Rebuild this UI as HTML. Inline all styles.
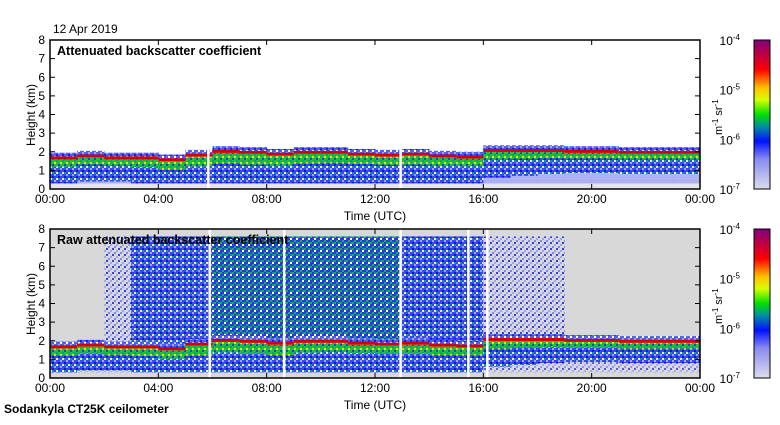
<!DOCTYPE html>
<html><head><meta charset="utf-8"><style>
body{margin:0;background:#fff;width:780px;height:420px;overflow:hidden;font-family:"Liberation Sans",sans-serif}
svg text{font-family:"Liberation Sans",sans-serif}
</style></head><body>
<svg id="c" width="780" height="420">
<defs>
<linearGradient id="cb" x1="0" y1="1" x2="0" y2="0">
<stop offset="0" stop-color="#dcdcec"/><stop offset="0.2" stop-color="#8a8cf0"/><stop offset="0.32" stop-color="#0010ff"/>
<stop offset="0.42" stop-color="#0090a0"/><stop offset="0.5" stop-color="#00e000"/><stop offset="0.6" stop-color="#d8ff00"/>
<stop offset="0.68" stop-color="#ffc000"/><stop offset="0.8" stop-color="#ff0000"/><stop offset="0.9" stop-color="#c00040"/><stop offset="1" stop-color="#800080"/>
</linearGradient>
<pattern id="pLight" width="6" height="6" patternUnits="userSpaceOnUse">
<rect width="6" height="6" fill="#d8d8d8"/><rect x="0" y="0" width="2" height="2" fill="#8088f0"/><rect x="4" y="2" width="2" height="2" fill="#3040f0"/><rect x="2" y="4" width="2" height="2" fill="#a0a4f0"/>
</pattern>
<pattern id="pBlue" width="6" height="6" patternUnits="userSpaceOnUse">
<rect width="6" height="6" fill="#3848ec"/><rect x="0" y="0" width="2" height="2" fill="#a0a8f0"/><rect x="4" y="2" width="2" height="2" fill="#1010f0"/><rect x="2" y="4" width="2" height="2" fill="#e8e8f8"/><rect x="4" y="4" width="2" height="2" fill="#00a080"/>
</pattern>
<pattern id="pMix" width="6" height="6" patternUnits="userSpaceOnUse">
<rect width="6" height="6" fill="#2838e8"/><rect x="0" y="0" width="2" height="2" fill="#20b050"/><rect x="4" y="2" width="2" height="2" fill="#10c020"/><rect x="2" y="4" width="2" height="2" fill="#ffffff"/><rect x="2" y="2" width="2" height="2" fill="#0090a0"/>
</pattern>
<pattern id="pGreen" width="6" height="6" patternUnits="userSpaceOnUse">
<rect width="6" height="6" fill="#20c030"/><rect x="0" y="0" width="2" height="2" fill="#e0e020"/><rect x="4" y="2" width="2" height="2" fill="#2040e0"/><rect x="2" y="4" width="2" height="2" fill="#00a090"/>
</pattern>
<pattern id="pLow" width="6" height="6" patternUnits="userSpaceOnUse">
<rect width="6" height="6" fill="#5060ea"/><rect x="0" y="0" width="2" height="2" fill="#ffffff"/><rect x="4" y="2" width="2" height="2" fill="#a0a6f0"/><rect x="2" y="4" width="2" height="2" fill="#1020f0"/>
</pattern>
</defs>
</svg>
<script>
const hours=[0,1,2,3,4,5,6,7,8,9,10,11,12,13,14,15,16,17,18,19,20,21,22,23];
const cloudBase=[1.7,1.8,1.7,1.7,1.6,1.85,2.05,2.0,1.9,2.0,2.0,1.9,1.85,1.9,1.8,1.75,2.1,2.1,2.1,2.05,2.05,2.0,2.0,2.0];
const cloudDepth=[1.4,1.4,1.3,1.5,1.6,1.8,1.9,2.0,1.9,1.8,1.7,1.6,1.6,1.7,1.6,1.5,1.5,1.4,1.3,1.2,1.2,1.2,1.2,1.2];
const rawNoise=[0,0,0.3,0.6,0.7,0.7,0.9,0.9,0.9,0.9,0.9,0.85,0.85,0.8,0.8,0.7,0.5,0.4,0.1,0,0,0,0,0];
const gapsTop=[5.8,12.9];
const gapsRaw=[5.85,8.6,12.9,15.4,16.1];
const xTicks=["00:00","04:00","08:00","12:00","16:00","20:00","00:00"];
const yTicks=[0,1,2,3,4,5,6,7,8];
const cbTicks=["10","10","10","10"], cbExp=["-7","-6","-5","-4"];
const NS="http://www.w3.org/2000/svg", svg=document.getElementById('c');
const X0=50,X1=700;
const xs=h=>X0+(X1-X0)*h/24;
function el(t,a,p){const e=document.createElementNS(NS,t);for(const k in a)e.setAttribute(k,a[k]);(p||svg).appendChild(e);return e;}
function txt(x,y,s,a,p){const e=el('text',Object.assign({x:x,y:y,'font-size':12},a),p);e.textContent=s;return e;}
function panel(top,raw,title,nameP){
  const Y0=top+149, ys=k=>Y0-149*k/8;
  const g=el('g',{});
  
  
  if(raw){el('rect',{x:X0,y:top,width:X1-X0,height:149,fill:'#d8d8d8'},g);}
  else{el('rect',{x:X0,y:ys(0.5),width:X1-X0,height:ys(0)-ys(0.5),fill:'#e4e4ee'},g);}
  hours.forEach((h,i)=>{
    const x=xs(h),w=xs(h+1)-x+0.3,b=cloudBase[i],d=cloudDepth[i];
    if(raw&&rawNoise[i]>0){
      const n=rawNoise[i];
      const col=n>0.8?'url(#pMix)':n>0.55?'url(#pBlue)':'url(#pLight)';
      const r=el('rect',{x:x,y:ys(7.6),width:w,height:ys(b+0.15)-ys(7.6),fill:col},g);
      
      
    }
    const lo=Math.max(b-d,0.3);
    el('rect',{x:x,y:ys(b+0.25),width:w,height:ys(b)-ys(b+0.25),fill:'url(#pLow)'},g);
    const bl=el('rect',{x:x,y:ys(b),width:w,height:ys(lo)-ys(b),fill:'url(#pBlue)'},g);
    
    
    el('rect',{x:x,y:ys(lo),width:w,height:ys(0.3)-ys(lo),fill:raw?'url(#pLight)':'#9ca0f0','fill-opacity':0.8},g);
    el('rect',{x:x,y:ys(b),width:w,height:ys(b-d*0.35)-ys(b),fill:'url(#pGreen)'},g);
    el('rect',{x:x,y:ys(b),width:w,height:ys(b-0.12)-ys(b),fill:'#f0c020'},g);
    const cb=el('rect',{x:x,y:ys(b+0.05),width:w,height:3,fill:'#d00010'},g);
    
    
  });
  (raw?gapsRaw:gapsTop).forEach(h=>{el('rect',{x:xs(h),y:top,width:2.5,height:149,fill:'#fff'},g);});
  el('rect',{x:X0,y:top,width:X1-X0,height:149,fill:'none',stroke:'#000','stroke-width':1.5},g);
  xTicks.forEach((t,i)=>{const x=xs(i*4);el('line',{x1:x,y1:Y0,x2:x,y2:Y0-5,stroke:'#000'},g);el('line',{x1:x,y1:top,x2:x,y2:top+5,stroke:'#000'},g);
    const l=txt(x,Y0+14,t,{'text-anchor':'middle'},g);});
  yTicks.forEach(v=>{const y=ys(v);el('line',{x1:X0,y1:y,x2:X0+5,y2:y,stroke:'#000'},g);el('line',{x1:X1,y1:y,x2:X1-5,y2:y,stroke:'#000'},g);
    const l=txt(45,y+4,String(v),{'text-anchor':'end'},g);});
  const yt=txt(0,0,'Height (km)',{transform:`translate(35,${top+75}) rotate(-90)`,'text-anchor':'middle'},g);
  
  const xt=txt(375,Y0+31,'Time (UTC)',{'text-anchor':'middle'},g);
  
  const tt=txt(57,top+15,title,{'font-weight':'bold','font-size':12.5},g);
  
  const cbr=el('rect',{x:754,y:top,width:16,height:149,fill:'url(#cb)',stroke:'#000'},g);
  
  cbTicks.forEach((t,i)=>{const y=top+149-149*i/3;const l=txt(740,y+5,t,{'text-anchor':'end'},g);
    const s=el('tspan',{dy:-5,'font-size':8},l);s.textContent=cbExp[i];
    });
  const u=txt(0,0,'m',{transform:`translate(722,${top+95}) rotate(-90)`,'font-size':11},g);
  u.innerHTML='m<tspan dy="-4" font-size="8">-1</tspan><tspan dy="4"> sr</tspan><tspan dy="-4" font-size="8">-1</tspan>';
  
}
panel(40,false,'Attenuated backscatter coefficient','attenuated');
panel(229,true,'Raw attenuated backscatter coefficient','raw');
const d=txt(53,33,'12 Apr 2019',{});
const s=txt(4,413,'Sodankyla CT25K ceilometer',{'font-weight':'bold'});
</script>
</body></html>
